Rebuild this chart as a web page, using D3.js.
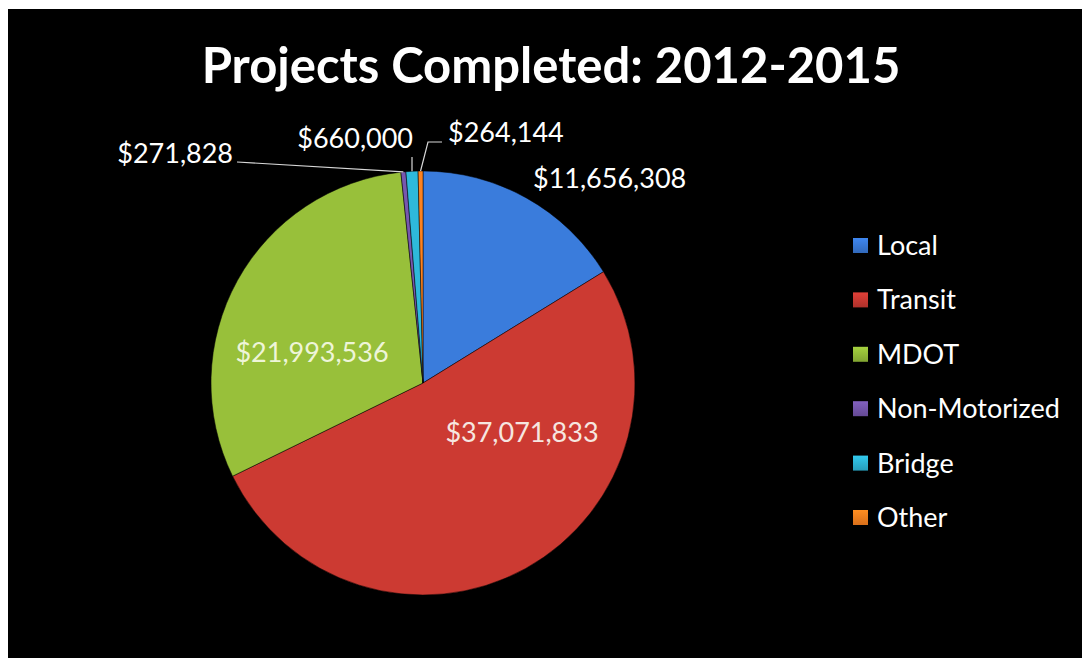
<!DOCTYPE html>
<html><head><meta charset="utf-8">
<script src="https://cdn.jsdelivr.net/npm/d3@7"></script>
<style>html,body{margin:0;padding:0;background:#fff;} svg{display:block;}</style>
</head><body><svg id="chart" width="1082" height="658"></svg>
<script>
// ---- data ----
const categories = ["Local", "Transit", "MDOT", "Non-Motorized", "Bridge", "Other"];
const values = [11656308, 37071833, 21993536, 271828, 660000, 264144];
const colors = ["#3571c9", "#bb352e", "#8bb035", "#6d50a0", "#2aa9c8", "#e8771c"];
const titleText = "Projects Completed: 2012-2015";

// ---- layout (label offsets from pie centre) ----
const labelLayout = [
  {dx: 110, dy: -195, anchor: "start", leader: null},
  {dx: 99, dy: 59, anchor: "middle", leader: null},
  {dx: -111, dy: -21, anchor: "middle", leader: null},
  {dx: -190, dy: -220, anchor: "end", leader: [[-186, -221]]},
  {dx: -10, dy: -235, anchor: "end", leader: "vertical"},
  {dx: 25, dy: -241, anchor: "start", leader: [[5, -241], [19, -241]]}
];

const W = 1082, H = 658;
const cx = 423, cy = 383, R = 212;
const svg = d3.select("#chart");
const font = "Lato, 'Open Sans', sans-serif";

svg.append("rect").attr("width", W).attr("height", H).attr("fill", "#fff");
svg.append("rect").attr("x", 8).attr("y", 9).attr("width", W - 8).attr("height", H - 9).attr("fill", "#000");

// title
svg.append("text").attr("x", 551).attr("y", 83).attr("text-anchor", "middle")
  .attr("font-family", font).attr("font-weight", 700).attr("font-size", 49)
  .attr("fill", "#fff").text(titleText);

const color = d3.scaleOrdinal().domain(categories).range(colors);
const data = categories.map((c, i) => ({cat: c, value: values[i]}));
const pie = d3.pie().value(d => d.value).sort(null);
const arcs = pie(data);
const arcGen = d3.arc().innerRadius(0).outerRadius(R);

const defs = svg.append("defs");
categories.forEach((c, i) => {
  const g = defs.append("radialGradient").attr("id", "g" + i)
    .attr("gradientUnits", "userSpaceOnUse").attr("cx", cx).attr("cy", cy).attr("r", R);
  const base = d3.color(color(c));
  g.append("stop").attr("offset", "0%").attr("stop-color", base.darker(0.1));
  g.append("stop").attr("offset", "93%").attr("stop-color", base);
  g.append("stop").attr("offset", "100%").attr("stop-color", base.brighter(0.25));
});

const gPie = svg.append("g").attr("transform", `translate(${cx},${cy})`);
gPie.selectAll("path").data(arcs).enter().append("path")
  .attr("d", arcGen)
  .attr("fill", (d, i) => `url(#g${i})`)
  .attr("stroke", "rgba(0,0,0,0.5)").attr("stroke-width", 1);

// labels
const fmt = d3.format("$,");
arcs.forEach((a, i) => {
  const L = labelLayout[i];
  if (L.leader) {
    const mid = (a.startAngle + a.endAngle) / 2;
    const p0 = [Math.sin(mid) * R, -Math.cos(mid) * R];
    let pts;
    if (L.leader === "vertical") pts = [p0, [p0[0], L.dy + 9]];
    else pts = [p0].concat(L.leader);
    gPie.append("path").attr("d", d3.line()(pts))
      .attr("fill", "none").attr("stroke", "#d8d8d8").attr("stroke-width", 1.2);
  }
  gPie.append("text").attr("x", L.dx).attr("y", L.dy)
    .attr("text-anchor", L.anchor)
    .attr("font-family", font).attr("font-size", 27)
    .attr("fill", i === 2 ? "#eef5d8" : (i === 1 ? "#f6e6e0" : "#fff"))
    .text(fmt(a.data.value));
});

// legend
const leg = svg.append("g");
categories.forEach((c, i) => {
  const y = 255 + i * 54.4;
  const lg = defs.append("linearGradient").attr("id", "lg" + i).attr("x1", 0).attr("y1", 0).attr("x2", 0).attr("y2", 1);
  const base = d3.color(color(c));
  lg.append("stop").attr("offset", "0%").attr("stop-color", base.brighter(0.5));
  lg.append("stop").attr("offset", "100%").attr("stop-color", base.darker(0.2));
  leg.append("rect").attr("x", 853).attr("y", y - 17).attr("width", 15).attr("height", 15)
    .attr("fill", `url(#lg${i})`);
  leg.append("text").attr("x", 877).attr("y", y)
    .attr("font-family", font).attr("font-size", 27).attr("fill", "#fff").text(c);
});
</script></body></html>
